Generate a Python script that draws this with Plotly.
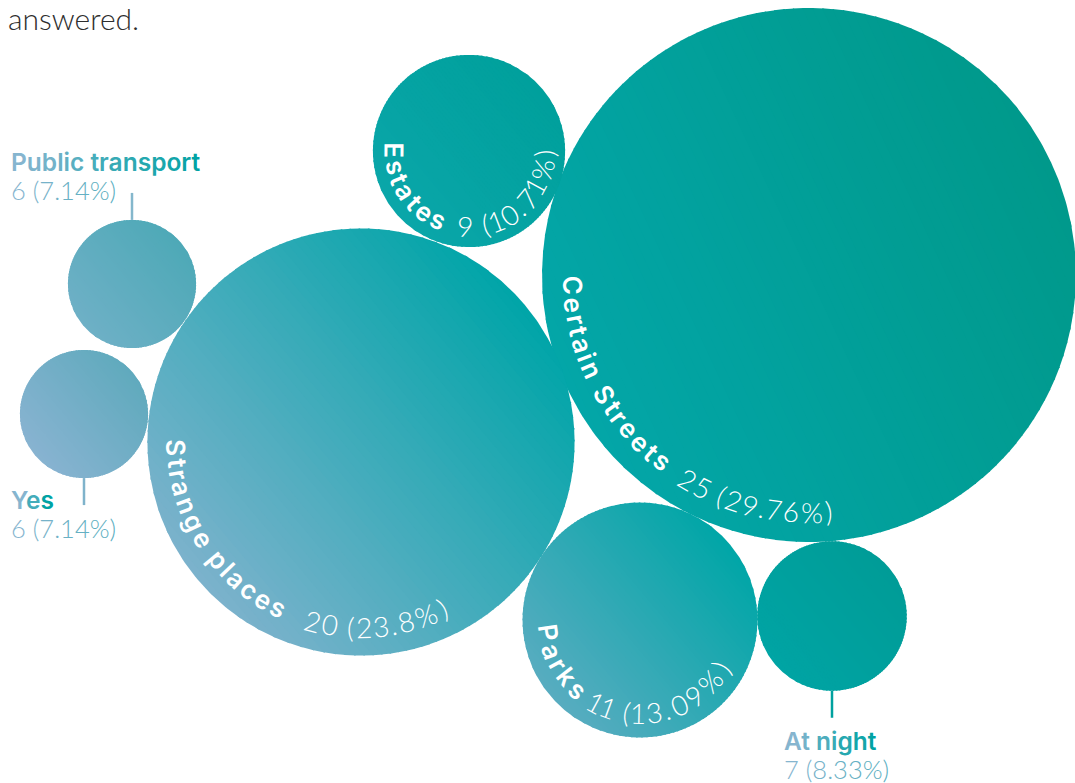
import numpy as np
import plotly.graph_objects as go

# ---- data -------------------------------------------------------------
categories = ["Certain Streets", "Strange places", "Parks", "Estates",
              "At night", "Public transport", "Yes"]
counts = [25, 20, 11, 9, 7, 6, 6]
share_labels = ["29.76%", "23.8%", "13.09%", "10.71%", "8.33%", "7.14%", "7.14%"]

# ---- layout of the packed bubbles (pixel space) -------------------------
W, H = 1075, 783
PX_PER_RESPONSE = 10.68
bubble_centres = [(809, 275), (361, 442), (640, 620), (469, 151),
                  (832, 616), (132, 284), (84, 414)]
# lower-left colour, upper-right colour, gradient direction (deg, counter-clockwise from +x)
bubble_fills = [("#03a6a8", "#00998b", 25),
                ("#7cb2cc", "#00a5a8", 40),
                ("#58acc0", "#00a6a7", 40),
                ("#0aa6a9", "#00a09c", 40),
                ("#00a4a4", "#009c97", 40),
                ("#6eb0c6", "#4ea9b7", 40),
                ("#88b3d1", "#60aabd", 40)]

# labels curved inside the big bubbles: text radius, name start/end angle, value start/end angle
arc_labels = {
    "Certain Streets": dict(r=237, name=(177.6, 128.3), value=(120.8, 85.2)),
    "Strange places": dict(r=185, name=(178.4, 116.6), value=(105.0, 64.0)),
    "Parks": dict(r=93, name=(172.0, 132.0), value=(118.5, 30.0)),
    "Estates": dict(r=75, name=(180.5, 114.0), value=(93.0, 1.5)),
}
# labels placed outside the small bubbles, linked with a short leader line
outside_labels = {
    "Public transport": dict(pos=(10, 162), side="top"),
    "Yes": dict(pos=(10, 500), side="bottom"),
    "At night": dict(pos=(783, 741), side="bottom"),
}

BOLD_FONT = "Inter"
LIGHT_FONT = "Lato"
LABEL_BLUE = "#86b5cf"
LABEL_TEAL = "#00a3a4"

# approximate advance widths (em) used to space glyphs along an arc
CHAR_W = {" ": 0.27, "(": 0.34, ")": 0.34, ".": 0.28, "%": 0.88, "1": 0.45,
          "C": 0.74, "E": 0.6, "P": 0.64, "S": 0.66,
          "a": 0.57, "c": 0.55, "e": 0.58, "g": 0.61, "i": 0.26, "k": 0.55,
          "l": 0.26, "n": 0.6, "p": 0.61, "r": 0.39, "s": 0.53, "t": 0.37}


def char_w(ch):
    if ch.isdigit() and ch != "1":
        return 0.61
    return CHAR_W.get(ch, 0.58)


def hex_rgb(h):
    h = h.lstrip("#")
    return np.array([int(h[i:i + 2], 16) for i in (0, 2, 4)], float)


def mix(c0, c1, t):
    c = hex_rgb(c0) * (1 - t) + hex_rgb(c1) * t
    return "rgb(%d,%d,%d)" % tuple(np.round(c).astype(int))


fig = go.Figure()

# ---- bubbles with a diagonal colour gradient (drawn as thin bands) ------
N_BANDS = 60
for (cx, cy), n, (c0, c1, ang) in zip(bubble_centres, counts, bubble_fills):
    r = n * PX_PER_RESPONSE
    d = np.array([np.cos(np.radians(ang)), -np.sin(np.radians(ang))])
    nv = np.array([-d[1], d[0]])
    edges = np.linspace(-r, r, N_BANDS + 1)
    for k in range(N_BANDS):
        a = edges[k]
        b = min(edges[k + 1] + 1.2, r)
        th_a = np.arccos(np.clip(a / r, -1, 1))
        th_b = np.arccos(np.clip(b / r, -1, 1))
        m = max(4, int(np.degrees(th_a - th_b) / 1.0) + 2)
        th = np.linspace(th_b, th_a, m)
        uu = np.concatenate([r * np.cos(th), r * np.cos(th[::-1])])
        vv = np.concatenate([r * np.sin(th), -r * np.sin(th[::-1])])
        xs = cx + uu * d[0] + vv * nv[0]
        ys = cy + uu * d[1] + vv * nv[1]
        fig.add_trace(go.Scatter(
            x=np.append(xs, xs[0]), y=np.append(ys, ys[0]),
            mode="lines", fill="toself", line=dict(width=0),
            fillcolor=mix(c0, c1, (k + 0.5) / N_BANDS),
            hoverinfo="skip", showlegend=False))

annotations = []


def arc_text(text, cx, cy, r, a0, a1, size, weight, family):
    w = np.array([char_w(ch) for ch in text])
    mids = np.cumsum(w) - w / 2
    s = (mids - mids[0]) / (mids[-1] - mids[0])
    for ch, a in zip(text, a0 + (a1 - a0) * s):
        if ch == " ":
            continue
        annotations.append(dict(
            x=cx + r * np.cos(np.radians(a)), y=cy + r * np.sin(np.radians(a)),
            xref="x", yref="y", text=ch, showarrow=False,
            xanchor="center", yanchor="middle", textangle=a - 90,
            font=dict(family=family, size=size, color="white", weight=weight)))


def gradient_spans(text, c0, c1):
    n = max(len(text) - 1, 1)
    return "".join('<span style="color:%s">%s</span>' % (mix(c0, c1, i / n), ch)
                   for i, ch in enumerate(text))


for cat, n, share, (cx, cy) in zip(categories, counts, share_labels, bubble_centres):
    r = n * PX_PER_RESPONSE
    value_txt = "%d (%s)" % (n, share)
    if cat in arc_labels:
        spec = arc_labels[cat]
        arc_text(cat, cx, cy, spec["r"], *spec["name"], size=26, weight=600,
                 family=BOLD_FONT)
        arc_text(value_txt, cx, cy, spec["r"], *spec["value"], size=28, weight=300,
                 family=LIGHT_FONT)
    else:
        spec = outside_labels[cat]
        lx, ly = spec["pos"]
        annotations.append(dict(
            x=lx - 1, y=ly, xref="x", yref="y", showarrow=False,
            xanchor="left", yanchor="middle",
            text=gradient_spans(cat, LABEL_BLUE, LABEL_TEAL),
            font=dict(family=BOLD_FONT, size=24.5, weight=600)))
        annotations.append(dict(
            x=lx - 1, y=ly + 28, xref="x", yref="y", showarrow=False,
            xanchor="left", yanchor="middle",
            text=gradient_spans(value_txt, LABEL_BLUE, "#5aaebf"),
            font=dict(family=LIGHT_FONT, size=25.5, weight=300)))
        if spec["side"] == "top":
            y0, y1 = cy - r - 27, cy - r
            lc = "#84b7cc"
        else:
            y0, y1 = cy + r, cy + r + 27
            lc = "#7fb3cb" if cat == "Yes" else "#00a19f"
        fig.add_trace(go.Scatter(x=[cx, cx], y=[y0, y1], mode="lines",
                                 line=dict(color=lc, width=2.5),
                                 hoverinfo="skip", showlegend=False))

annotations.append(dict(
    x=6, y=18, xref="x", yref="y", showarrow=False, xanchor="left",
    yanchor="middle", text="answered.",
    font=dict(family=LIGHT_FONT, size=30, color="#2e2e2e", weight=300)))

fig.update_layout(
    width=W, height=H, margin=dict(l=0, r=0, t=0, b=0),
    paper_bgcolor="white", plot_bgcolor="white",
    xaxis=dict(range=[0, W], visible=False, fixedrange=True),
    yaxis=dict(range=[H, 0], visible=False, fixedrange=True),
    annotations=annotations, showlegend=False)

fig.write_html("out.html")
